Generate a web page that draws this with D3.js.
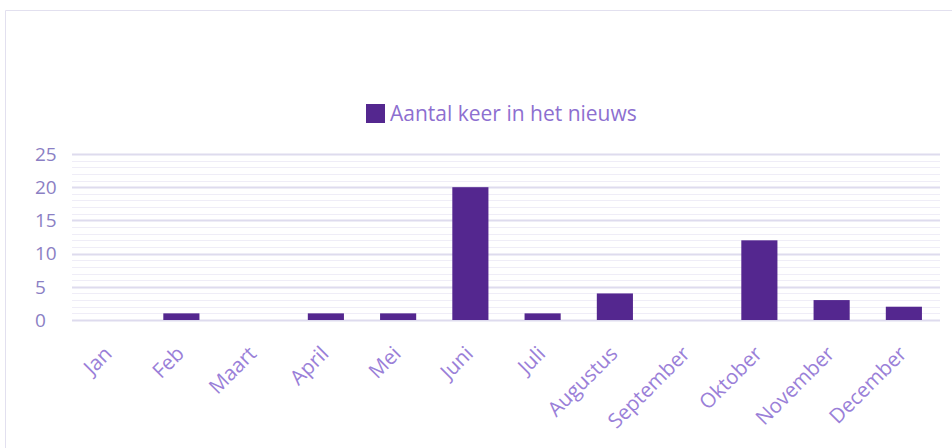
<!DOCTYPE html>
<html>
<head>
<script src="https://d3js.org/d3.v7.min.js"></script>
<style>
  body { margin: 0; background: #fff; }
  text { font-family: 'Open Sans', sans-serif; }
</style>
</head>
<body>
<svg id="chart"></svg>
<script>
'use strict';

var months = ["Jan","Feb","Maart","April","Mei","Juni","Juli","Augustus","September","Oktober","November","December"];
var counts = [0,1,0,1,1,20,1,4,0,12,3,2];
var yTicks = [0,5,10,15,20,25];
var seriesName = "Aantal keer in het nieuws";

var width = 952, height = 448;
var margin = {top: 154, right: 12, bottom: 128, left: 73};

var svg = d3.select("#chart").attr("width", width).attr("height", height);

// card border
svg.append("path")
  .attr("d", "M5.5," + height + "V10.5H" + width)
  .attr("fill", "none")
  .attr("stroke", "#e2e0ef")
  .attr("stroke-width", 1);

var x = d3.scaleBand()
  .domain(months)
  .range([margin.left, width - margin.right])
  .paddingInner(0.5)
  .paddingOuter(0.25);

var y = d3.scaleLinear()
  .domain([0, 25])
  .range([height - margin.bottom, margin.top]);

// gridlines, one per unit, darker every 5
svg.append("g")
  .selectAll("line")
  .data(d3.range(0, 26))
  .enter().append("line")
  .attr("x1", margin.left - 1)
  .attr("x2", width - margin.right)
  .attr("y1", function(d) { return Math.round(y(d)) + 0.5; })
  .attr("y2", function(d) { return Math.round(y(d)) + 0.5; })
  .attr("stroke", function(d) { return d % 5 === 0 ? "#dedbee" : "#efedf7"; })
  .attr("stroke-width", function(d) { return d % 5 === 0 ? 2 : 1; });

// bars
svg.append("g")
  .selectAll("rect")
  .data(counts)
  .enter().append("rect")
  .attr("x", function(d, i) { return x(months[i]); })
  .attr("width", x.bandwidth())
  .attr("y", function(d) { return y(d); })
  .attr("height", function(d) { return y(0) - y(d); })
  .attr("fill", "#54278f");

// y labels
svg.append("g")
  .selectAll("text")
  .data(yTicks)
  .enter().append("text")
  .attr("x", 35)
  .attr("y", function(d) { return y(d); })
  .attr("dy", "0.36em")
  .attr("fill", "#8b7fc4")
  .style("font-size", "19px")
  .text(function(d) { return d; });

// x labels, rotated
svg.append("g")
  .selectAll("text")
  .data(months)
  .enter().append("text")
  .attr("transform", function(d) {
    return "translate(" + (x(d) + x.bandwidth() / 2 + 4) + "," + (height - margin.bottom + 35) + ") rotate(-45)";
  })
  .attr("text-anchor", "end")
  .attr("fill", "#9a80d8")
  .style("font-size", "20.5px")
  .text(function(d) { return d; });

// legend
var legend = svg.append("g").attr("transform", "translate(366,104)");
legend.append("rect")
  .attr("width", 19).attr("height", 19)
  .attr("fill", "#54278f");
legend.append("text")
  .attr("x", 24).attr("y", 17)
  .attr("fill", "#8d6fd0")
  .style("font-size", "21px")
  .text(seriesName);
</script>
</body>
</html>
